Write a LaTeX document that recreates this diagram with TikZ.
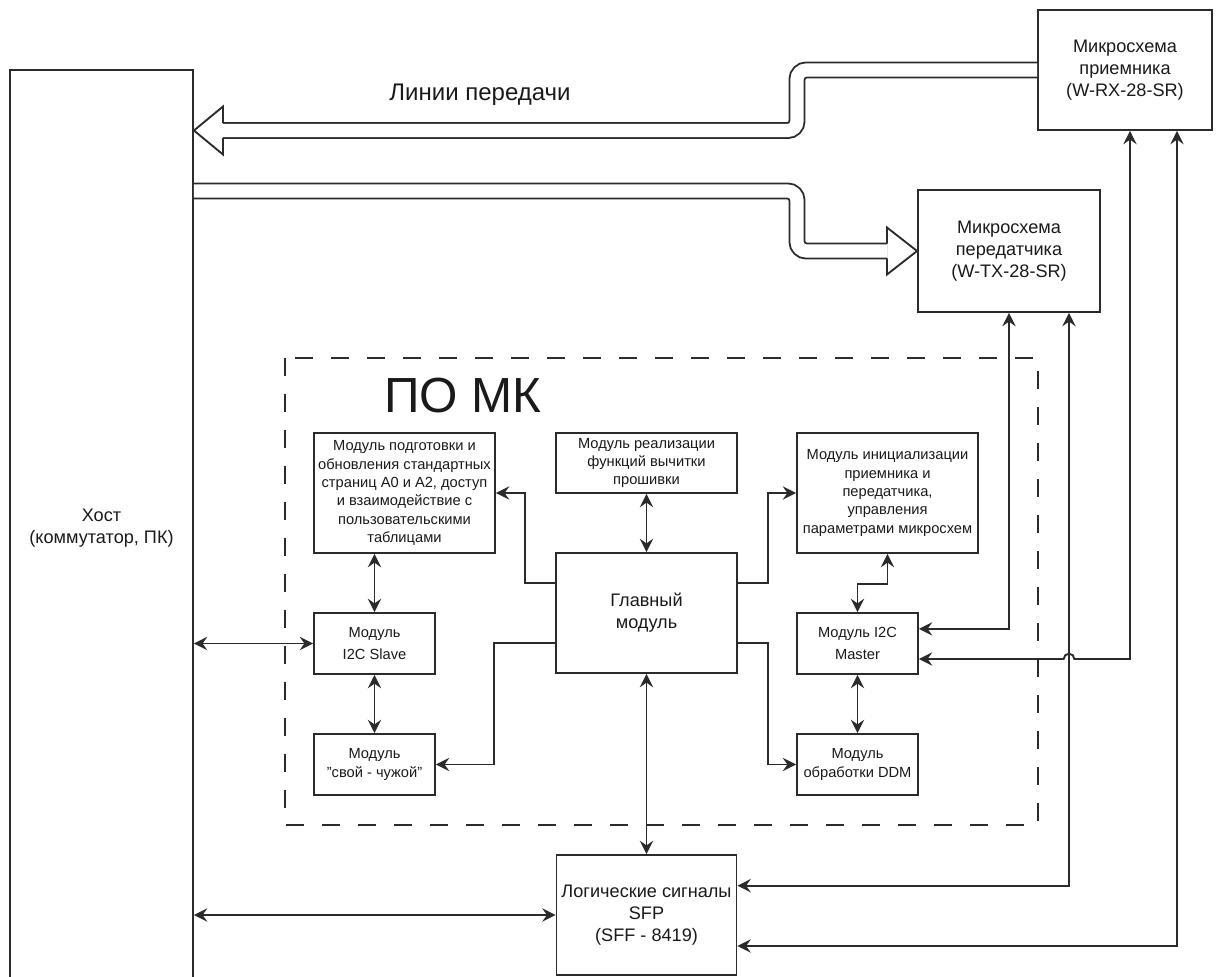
\documentclass[tikz,border=0pt]{standalone}
\usepackage{fontspec}
\setmainfont{Liberation Sans}
\usetikzlibrary{arrows.meta}

\definecolor{linec}{HTML}{2B2B2B}
\definecolor{textc}{HTML}{1A1A1A}

\begin{document}
\begin{tikzpicture}[x=0.75pt, y=-0.75pt,
  >={Stealth[length=10pt, width=10pt, inset=3.5pt]},
  box/.style={draw=linec, line width=1.4pt, fill=white, align=center,
    text=textc, inner sep=1pt, font=\fontsize{11}{13.75}\selectfont},
  modbox/.style={box, font=\fontsize{11}{17}\selectfont},
  chip/.style={box, font=\fontsize{13.6}{16.5}\selectfont},
  conn/.style={->, line width=1.4pt, draw=linec},
  biconn/.style={<->, line width=1.4pt, draw=linec},
  band/.style={line width=1.4pt, draw=linec, double=white,
    double distance=9.85pt, rounded corners=7pt},
  hollow/.style={line width=1.4pt, draw=linec, line join=miter, line cap=square},
  pobox/.style={line width=1.4pt, draw=linec, dash pattern=on 13.5pt off 13.5pt}]
  \path[use as bounding box, clip] (0,0) rectangle (1224,976);

  \draw[pobox] (285,358) rectangle (1038,825);
  \node[text=textc, font=\fontsize{37}{40}\selectfont] (po) at (463,396) {ПО МК};
  \node[text=textc, font=\fontsize{18}{21}\selectfont] (lines) at (480,95) {Линии передачи};

  \node[chip, minimum width=137.25pt, minimum height=687pt] (host) at (101.5,528)
    {Хост\\(коммутатор, ПК)};
  \node[chip, minimum width=130.5pt, minimum height=90pt] (rx) at (1125,70)
    {Микросхема\\приемника\\(W-RX-28-SR)};
  \node[chip, minimum width=136.5pt, minimum height=91.5pt] (tx) at (1009,251)
    {Микросхема\\передатчика\\(W-TX-28-SR)};

  \node[box, minimum width=135.75pt, minimum height=90pt] (prep) at (404.5,493)
    {Модуль подготовки и\\обновления стандартных\\страниц А0 и А2, доступ\\и взаимодействие с\\пользовательскими\\таблицами};
  \node[box, minimum width=135.75pt, minimum height=45pt] (fw) at (646.5,463)
    {Модуль реализации\\функций вычитки\\прошивки};
  \node[box, minimum width=135.75pt, minimum height=90pt] (init) at (887.5,493)
    {Модуль инициализации\\приемника и\\передатчика,\\управления\\параметрами микросхем};
  \node[chip, minimum width=135.75pt, minimum height=90pt] (main) at (646.5,613)
    {Главный\\модуль};
  \node[modbox, minimum width=90.75pt, minimum height=45.75pt] (slave) at (374.5,643.5)
    {Модуль\\I2C Slave};
  \node[modbox, minimum width=90.75pt, minimum height=45.75pt] (master) at (857.5,643.5)
    {Модуль I2C\\Master};
  \node[box, minimum width=90.75pt, minimum height=45.75pt] (svoi) at (374.5,764.5)
    {Модуль\\"свой - чужой"};
  \node[box, minimum width=90.75pt, minimum height=45.75pt] (ddm) at (857.5,764.5)
    {Модуль\\обработки DDM};
  \node[chip, minimum width=135pt, minimum height=90pt] (sfp) at (646.5,915)
    {Логические сигналы\\SFP\\(SFF - 8419)};

  \coordinate (inBase) at (223,130.5);
  \coordinate (outBase) at (887,251);
  \draw[band] (rx.west) -- (797,70) |- (inBase);
  \draw[hollow] ([yshift=5.6pt]inBase) -- ([yshift=18pt]inBase) -- (host.east |- inBase)
    -- ([yshift=-18pt]inBase) -- ([yshift=-5.6pt]inBase);
  \draw[band] (host.east |- {(0,191)}) -- (797,191) |- (outBase);
  \draw[hollow] ([yshift=5.6pt]outBase) -- ([yshift=17.6pt]outBase) -- (tx.west)
    -- ([yshift=-17.6pt]outBase) -- ([yshift=-5.6pt]outBase);

  \draw[biconn] (host.east |- slave.west) -- (slave.west);
  \draw[biconn] (host.east |- sfp.west) -- (sfp.west);
  \draw[biconn] (prep.south -| slave.north) -- (slave.north);
  \draw[biconn] (slave.south) -- (svoi.north);
  \draw[biconn] (fw.south) -- (main.north);
  \draw[biconn] (main.south) -- (sfp.north);
  \draw[conn] ([yshift=22.5pt]main.west) -- ++(-30,0) |- (prep.east);
  \draw[conn] ([yshift=-22.5pt]main.west) -- ++(-61,0) |- (svoi.east);
  \draw[conn] ([yshift=22.5pt]main.east) -- ++(30,0) |- (init.west);
  \draw[conn] ([yshift=-22.5pt]main.east) -- ++(30,0) |- (ddm.west);
  \draw[biconn] (init.south) -- ++(0,30) -| (master.north);
  \draw[biconn] (master.south) -- (ddm.north);

  \coordinate (txB) at ([xshift=45pt]tx.south);
  \coordinate (rxA) at ([xshift=3.75pt]rx.south);
  \coordinate (rxB) at ([xshift=39pt]rx.south);
  \coordinate (mIn2) at ([yshift=-11.6pt]master.east);
  \coordinate (hop) at (txB |- mIn2);
  \draw[biconn] (tx.south) |- ([yshift=11pt]master.east);
  \draw[biconn] (rxA) |- ([xshift=4pt]hop) arc[start angle=0, end angle=180, radius=4pt] -- (mIn2);
  \draw[biconn] (txB) |- ([yshift=22pt]sfp.east);
  \draw[biconn] (rxB) |- ([yshift=-23.25pt]sfp.east);
\end{tikzpicture}
\end{document}
